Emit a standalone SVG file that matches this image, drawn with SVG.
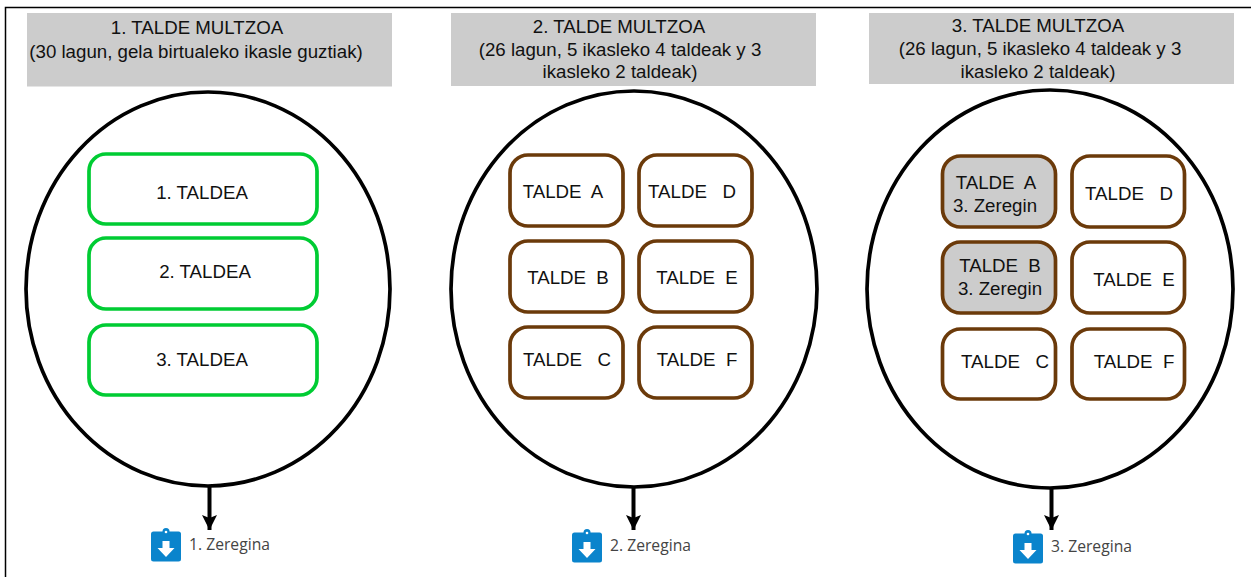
<svg xmlns="http://www.w3.org/2000/svg" width="1251" height="577" viewBox="0 0 1251 577">
<style>
.t{font-family:"Liberation Sans",Arial,sans-serif;font-size:18.7px;fill:#111;text-anchor:middle}
.z{font-family:"Open Sans","Noto Sans",sans-serif;font-size:15.7px;fill:#444}
.h{fill:#ccc}
.c{fill:#fff;stroke:#000;stroke-width:3.7}
.g{fill:#fff;stroke:#0c3;stroke-width:3.7}
.b{fill:#fff;stroke:#6b3a0a;stroke-width:3.7}
.bg{fill:#ccc;stroke:#6b3a0a;stroke-width:3.7}
.a{stroke:#000;stroke-width:4;fill:none;marker-end:url(#m)}
.i{fill:#0a84cc}
</style>
<defs>
<marker id="m" markerUnits="userSpaceOnUse" markerWidth="15" markerHeight="16" refX="15" refY="8" orient="auto" viewBox="0 0 15 16"><path d="M0 0.500L3 8L0 15.500L15 8Z" fill="#000"/></marker>
<g id="ic"><rect x="0" y="3.500" width="30" height="30" rx="2.500" class="i"/><circle cx="15" cy="3.500" r="3.500" class="i"/><circle cx="15" cy="4" r="1.300" fill="#fff"/><path d="M11.500 13h7v7h5L15 29 6.500 20h5z" fill="#fff"/></g>
</defs>
<rect x="0" y="0" width="1251" height="577" fill="#fff"/>
<path d="M5.500 577V7.500H1251" fill="none" stroke="#000" stroke-width="1.500"/>
<g id="panel1">
<rect x="27" y="13" width="365" height="73.500" class="h"/>
<text class="t" x="197" y="34">1. TALDE MULTZOA</text>
<text class="t" x="196" y="58">(30 lagun, gela birtualeko ikasle guztiak)</text>
<ellipse cx="208" cy="289" rx="182" ry="197" class="c"/>
</g>
<g id="t1-1"><rect x="89" y="154" width="228" height="70" rx="17" class="g"/><text class="t" x="202" y="199">1. TALDEA</text></g>
<g id="t1-2"><rect x="89" y="238" width="228" height="71" rx="17" class="g"/><text class="t" x="205" y="278">2. TALDEA</text></g>
<g id="t1-3"><rect x="89" y="325" width="228" height="70" rx="17" class="g"/><text class="t" x="202" y="366">3. TALDEA</text></g>
<g id="panel2">
<rect x="451" y="13" width="365" height="73" class="h"/>
<text class="t" x="619" y="33">2. TALDE MULTZOA</text>
<text class="t" x="620" y="56">(26 lagun, 5 ikasleko 4 taldeak y 3</text>
<text class="t" x="620" y="78">ikasleko 2 taldeak)</text>
<ellipse cx="634" cy="289" rx="183" ry="198" class="c"/>
</g>
<g id="t2-a"><rect x="510" y="155" width="113" height="71" rx="18" class="b"/><text class="t" x="563" y="198" xml:space="preserve">TALDE  A</text></g>
<g id="t2-d"><rect x="639" y="155" width="113" height="71" rx="18" class="b"/><text class="t" x="692" y="198" xml:space="preserve">TALDE   D</text></g>
<g id="t2-b"><rect x="510" y="241" width="113" height="71" rx="18" class="b"/><text class="t" x="568" y="284" xml:space="preserve">TALDE  B</text></g>
<g id="t2-e"><rect x="639" y="241" width="113" height="71" rx="18" class="b"/><text class="t" x="697" y="284" xml:space="preserve">TALDE  E</text></g>
<g id="t2-c"><rect x="510" y="327" width="113" height="71" rx="18" class="b"/><text class="t" x="567" y="366" xml:space="preserve">TALDE   C</text></g>
<g id="t2-f"><rect x="639" y="327" width="113" height="71" rx="18" class="b"/><text class="t" x="697" y="366" xml:space="preserve">TALDE  F</text></g>
<g id="panel3">
<rect x="869" y="13" width="365" height="71" class="h"/>
<text class="t" x="1038" y="32">3. TALDE MULTZOA</text>
<text class="t" x="1040" y="55">(26 lagun, 5 ikasleko 4 taldeak y 3</text>
<text class="t" x="1038" y="78">ikasleko 2 taldeak)</text>
<ellipse cx="1050" cy="289" rx="183" ry="199" class="c"/>
</g>
<g id="t3-a"><rect x="942.500" y="156" width="113" height="71" rx="18" class="bg"/><text class="t" x="996" y="189" xml:space="preserve">TALDE  A</text><text class="t" x="995" y="212">3. Zeregin</text></g>
<g id="t3-d"><rect x="1072" y="156" width="112.500" height="71" rx="18" class="b"/><text class="t" x="1129" y="200" xml:space="preserve">TALDE   D</text></g>
<g id="t3-b"><rect x="942.500" y="242" width="113" height="71" rx="18" class="bg"/><text class="t" x="1000" y="272" xml:space="preserve">TALDE  B</text><text class="t" x="1000" y="295">3. Zeregin</text></g>
<g id="t3-e"><rect x="1072" y="242" width="112.500" height="71" rx="18" class="b"/><text class="t" x="1134" y="286" xml:space="preserve">TALDE  E</text></g>
<g id="t3-c"><rect x="942.500" y="329" width="113" height="70" rx="18" class="b"/><text class="t" x="1005" y="368" xml:space="preserve">TALDE   C</text></g>
<g id="t3-f"><rect x="1072" y="329" width="112.500" height="70" rx="18" class="b"/><text class="t" x="1134" y="368" xml:space="preserve">TALDE  F</text></g>
<g id="connectors">
<path class="a" d="M209.500 487V530"/>
<path class="a" d="M633.500 487V530"/>
<path class="a" d="M1051.500 487V530"/>
</g>
<g id="task1"><use href="#ic" x="151" y="528"/><text class="z" x="189" y="550">1. Zeregina</text></g>
<g id="task2"><use href="#ic" x="572" y="529"/><text class="z" x="610" y="551">2. Zeregina</text></g>
<g id="task3"><use href="#ic" x="1013" y="530"/><text class="z" x="1051" y="552">3. Zeregina</text></g>
</svg>
